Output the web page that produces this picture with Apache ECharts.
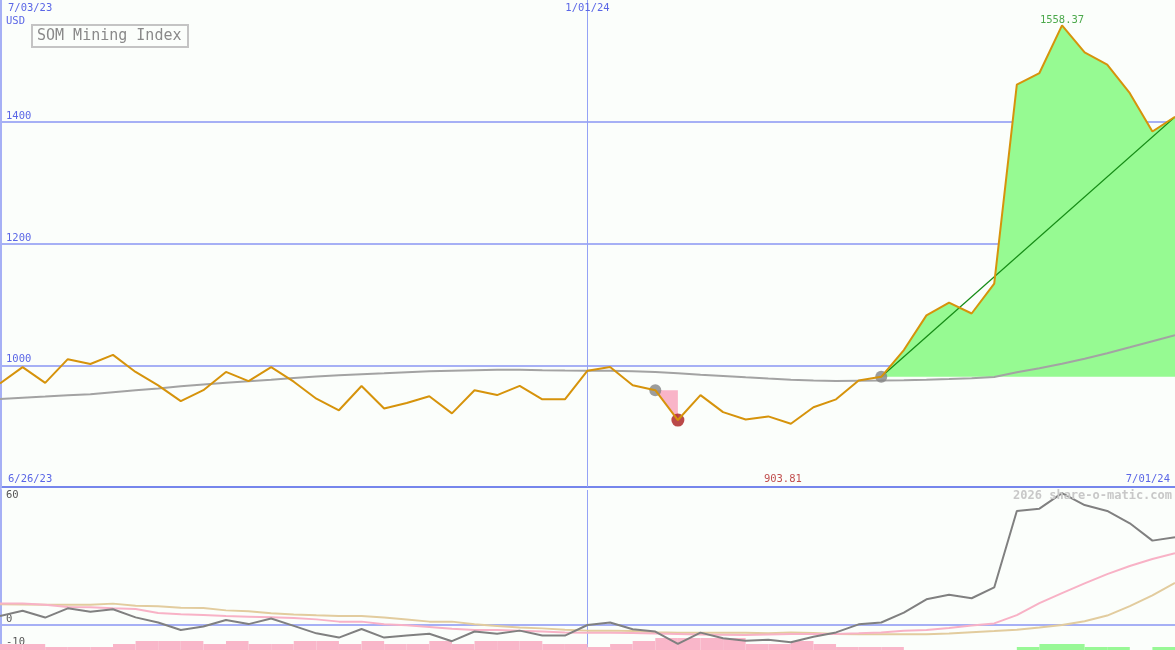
<!DOCTYPE html>
<html>
<head>
<meta charset="utf-8">
<script src="https://cdn.jsdelivr.net/npm/echarts@6.0.0/dist/echarts.min.js"></script>
<style>
html,body{margin:0;padding:0;background:#fbfefb;}
#c{width:1175px;height:650px;}
</style>
</head>
<body>
<div id="c"></div>
<script>
// ---------- DATA ----------
const dates = ['7/03/23','7/10/23','7/17/23','7/24/23','7/31/23','8/07/23','8/14/23','8/21/23','8/28/23',
  '9/04/23','9/11/23','9/18/23','9/25/23','10/02/23','10/09/23','10/16/23','10/23/23','10/30/23',
  '11/06/23','11/13/23','11/20/23','11/27/23','12/04/23','12/11/23','12/18/23','12/25/23',
  '1/01/24','1/08/24','1/15/24','1/22/24','1/29/24','2/05/24','2/12/24','2/19/24','2/26/24',
  '3/04/24','3/11/24','3/18/24','3/25/24','4/01/24','4/08/24','4/15/24','4/22/24','4/29/24',
  '5/06/24','5/13/24','5/20/24','5/27/24','6/03/24','6/10/24','6/17/24','6/24/24','7/01/24'];

const price = [970, 997, 971, 1010, 1002, 1017, 989, 967, 941, 959,
  989, 974, 997, 973, 945, 926, 966, 929, 938, 949,
  921, 959, 951, 966, 944, 944, 991, 997, 967, 959,
  910, 951, 923, 911, 916, 903.81, 931, 944, 975, 981,
  1025, 1082, 1103, 1085, 1134, 1461, 1480, 1558.37, 1514, 1494,
  1447, 1384, 1408];

const ma40 = [944.5, 946.5, 948.5, 950.6, 952.3, 955.6, 958.8, 962, 965.4, 968.4,
  971.2, 973.7, 976.1, 979.1, 981.4, 983.5, 985.2, 986.8, 988.5, 990,
  991, 991.8, 992.6, 992.6, 991.8, 991.3, 991, 991, 990, 989,
  986.8, 984.4, 982.4, 980.2, 978.1, 976.1, 974.8, 974.2, 974.5, 974.8,
  975.3, 976.1, 977.3, 978.6, 980.7, 988.5, 995, 1002.5, 1010.7, 1019.8,
  1029.6, 1039.5, 1049.4];

const osc = [4.0, 6.3, 3.3, 7.4, 5.9, 7.0, 3.4, 1.1, -2.2, -0.7,
  2.2, 0.4, 2.9, -0.4, -3.7, -5.6, -1.8, -5.6, -4.7, -3.9,
  -7.2, -2.9, -3.9, -2.5, -4.7, -4.7, 0, 1.1, -1.9, -2.9,
  -8.4, -3.4, -5.9, -7.0, -6.6, -7.7, -5.2, -3.3, 0.3, 1.1,
  5.5, 11.4, 13.4, 11.9, 16.7, 50.7, 51.7, 58.6, 53.3, 50.7,
  45.2, 37.5, 39.0];

const oscFast = [9.6, 9.6, 9.0, 8.0, 7.9, 7.4, 7.1, 5.3, 4.8, 4.4,
  4.0, 3.7, 3.4, 3.1, 2.5, 1.5, 1.5, 0.3, -0.1, -0.9,
  -1.7, -2.2, -2.2, -2.6, -2.9, -3.3, -3.4, -3.4, -3.6, -3.8,
  -4.0, -4.2, -4.3, -4.4, -4.2, -4.0, -4.0, -4.0, -3.7, -3.3,
  -2.6, -2.2, -1.3, -0.2, 0.7, 4.4, 9.7, 14.2, 18.5, 22.6,
  26.2, 29.3, 31.9];

const oscSlow = [9.2, 9.1, 9.0, 9.0, 9.0, 9.5, 8.6, 8.3, 7.7, 7.6,
  6.5, 6.1, 5.2, 4.7, 4.3, 4.0, 4.0, 3.3, 2.4, 1.5,
  1.5, 0.3, -0.4, -1.1, -1.5, -2.1, -2.5, -2.5, -2.7, -3.2,
  -3.4, -3.4, -3.4, -3.4, -3.7, -3.3, -3.6, -4.0, -4.1, -4.1,
  -4.1, -4.1, -3.8, -3.2, -2.7, -2.1, -1.1, 0.0, 1.7, 4.2,
  8.4, 13.2, 18.7];

// weekly strength blocks between consecutive points (negative = pink, positive = green)
const strength = [-2, -2, -1, -1, -1, -2, -3, -3, -3, -2,
  -3, -2, -2, -3, -3, -2, -3, -2, -2, -3,
  -2, -3, -3, -3, -2, -2, -1, -2, -3, -4,
  -4, -4, -4, -2, -2, -3, -2, -1, -1, -1,
  0, 0, 0, 0, 0, 1, 2, 2, 1, 1,
  0, 1];

const priceTicks = [1000, 1200, 1400];
const oscTicks = [60, 0, -10];
const sellStart = 29, sellMark = 30, buyIdx = 39;
const peakIdx = 47, lowIdx = 35;
const title = 'SOM Mining Index';
const currency = 'USD';
const rangeLabels = ['6/26/23', '7/01/24'];
const credit = '2026 share-o-matic.com';

// ---------- CHART ----------
const FONT = 'DejaVu Sans Mono';
const BLUE_TXT = '#5a66e6';
const GRID_BLUE = '#a6b0f5';
const VLINE_BLUE = '#94a2f6';
const SEP_BLUE = '#7686ec';
const CLEAR = 'rgba(0,0,0,0)';
const N = dates.length;
const gap = '-';
const ranged = (fn, a, b) => dates.map((d, i) => (i >= a && i <= b) ? fn(i) : gap);

const chart = echarts.init(document.getElementById('c'), null, {renderer: 'canvas'});

const option = {
  animation: false,
  backgroundColor: '#fbfefb',
  grid: [
    {left: 0, right: 0, top: 0, height: 487, outerBoundsMode: 'none', containLabel: false},
    {left: 0, right: 0, top: 490, height: 157.5, outerBoundsMode: 'none', containLabel: false},
    {left: 0, right: 0, top: 638, height: 12, outerBoundsMode: 'none', containLabel: false}
  ],
  xAxis: [
    {gridIndex: 0, type: 'category', data: dates, boundaryGap: false, position: 'top',
      axisLine: {show: false}, axisTick: {show: false},
      axisLabel: {inside: true, margin: 3, verticalAlign: 'top', alignMinLabel: 'left',
        interval: (i) => i === 0 || i === 26,
        formatter: (v, i) => i === 0 ? '{a|' + v + '}' : v,
        rich: {a: {padding: [0, 0, 0, 8], color: BLUE_TXT, fontFamily: FONT, fontSize: 10.5}},
        color: BLUE_TXT, fontFamily: FONT, fontSize: 10.5},
      splitLine: {show: true, interval: (i) => i === 26, lineStyle: {color: VLINE_BLUE, width: 1}}},
    {gridIndex: 1, type: 'category', data: dates, boundaryGap: false,
      axisLine: {show: false}, axisTick: {show: false}, axisLabel: {show: false},
      splitLine: {show: true, interval: (i) => i === 26, lineStyle: {color: VLINE_BLUE, width: 1}}},
    {gridIndex: 2, type: 'category', data: strength.map((s, i) => i), boundaryGap: true, show: false}
  ],
  yAxis: [
    {gridIndex: 0, type: 'value', min: 800, max: 1600, interval: 200,
      axisLine: {show: true, lineStyle: {color: GRID_BLUE, width: 4}}, axisTick: {show: false},
      axisLabel: {inside: true, margin: 6, verticalAlign: 'bottom', color: BLUE_TXT,
        fontFamily: FONT, fontSize: 10.5,
        formatter: (v) => priceTicks.includes(v) ? String(v) : ''},
      splitLine: {show: true, lineStyle: {color: [SEP_BLUE, GRID_BLUE, GRID_BLUE, GRID_BLUE, CLEAR], width: 2}}},
    {gridIndex: 1, type: 'value', min: -10, max: 60, interval: 10,
      axisLine: {show: true, lineStyle: {color: GRID_BLUE, width: 4}}, axisTick: {show: false},
      axisLabel: {inside: true, margin: 6, verticalAlign: 'bottom', verticalAlignMaxLabel: 'top',
        color: '#555555', fontFamily: FONT, fontSize: 10.5,
        formatter: (v) => oscTicks.includes(v) ? String(v) : ''},
      splitLine: {show: true, lineStyle: {color: [CLEAR, GRID_BLUE, CLEAR, CLEAR, CLEAR, CLEAR, CLEAR, CLEAR], width: 2}}},
    {gridIndex: 2, type: 'value', min: 0, max: 4, show: false}
  ],
  series: [
    // green gain area
    {type: 'line', xAxisIndex: 0, yAxisIndex: 0, stack: 'gain', z: 1, silent: true,
      data: ranged(() => price[buyIdx], buyIdx, N - 1), symbol: 'none', lineStyle: {opacity: 0}},
    {type: 'line', xAxisIndex: 0, yAxisIndex: 0, stack: 'gain', z: 1, silent: true,
      data: ranged((i) => price[i] - price[buyIdx], buyIdx, N - 1), symbol: 'none',
      lineStyle: {opacity: 0}, areaStyle: {color: '#96fa92', opacity: 1}},
    // pink loss area
    {type: 'line', xAxisIndex: 0, yAxisIndex: 0, stack: 'loss', z: 1, silent: true,
      data: ranged((i) => price[i], sellStart, sellMark), symbol: 'none', lineStyle: {opacity: 0}},
    {type: 'line', xAxisIndex: 0, yAxisIndex: 0, stack: 'loss', z: 1, silent: true,
      data: ranged((i) => price[sellStart] - price[i], sellStart, sellMark), symbol: 'none',
      lineStyle: {opacity: 0}, areaStyle: {color: '#f9b4c8', opacity: 1}},
    // moving average
    {type: 'line', xAxisIndex: 0, yAxisIndex: 0, z: 3, data: ma40, symbol: 'none',
      lineStyle: {color: '#a3a3a3', width: 2}},
    // trend line
    {type: 'line', xAxisIndex: 0, yAxisIndex: 0, z: 4, symbol: 'none',
      data: [[buyIdx, price[buyIdx]], [N - 1, price[N - 1]]],
      lineStyle: {color: '#168c16', width: 1.3}},
    // markers
    {type: 'scatter', xAxisIndex: 0, yAxisIndex: 0, z: 4, symbolSize: 12,
      data: [[sellStart, price[sellStart]], [buyIdx, price[buyIdx]]], itemStyle: {color: '#858585'}},
    {type: 'scatter', xAxisIndex: 0, yAxisIndex: 0, z: 4, symbolSize: 13,
      data: [[sellMark, price[sellMark]]], itemStyle: {color: '#aa1c1c'}},
    // price
    {type: 'line', xAxisIndex: 0, yAxisIndex: 0, z: 5, data: price, symbol: 'none',
      lineStyle: {color: '#d6930b', width: 2}},
    // peak label
    {type: 'scatter', xAxisIndex: 0, yAxisIndex: 0, z: 6, symbolSize: 0, silent: true,
      data: [[peakIdx, price[peakIdx]]],
      label: {show: true, position: 'top', distance: 0, formatter: (p) => p.value[1].toFixed(2),
        color: '#1f931f', fontFamily: FONT, fontSize: 10.5}},
    // low label on bottom edge
    {type: 'scatter', xAxisIndex: 0, yAxisIndex: 0, z: 6, symbolSize: 0, silent: true,
      data: [[lowIdx, 800, price[lowIdx]]],
      label: {show: true, position: 'top', distance: 2, offset: [-8, 0], formatter: (p) => p.value[2].toFixed(2),
        color: '#b22222', fontFamily: FONT, fontSize: 10.5}},
    // oscillator panel
    {type: 'line', xAxisIndex: 1, yAxisIndex: 1, z: 2, data: oscSlow, symbol: 'none',
      lineStyle: {color: '#e2cc9e', width: 2}},
    {type: 'line', xAxisIndex: 1, yAxisIndex: 1, z: 2, data: oscFast, symbol: 'none',
      lineStyle: {color: '#f8b2c6', width: 2}},
    {type: 'line', xAxisIndex: 1, yAxisIndex: 1, z: 3, data: osc, symbol: 'none',
      lineStyle: {color: '#808080', width: 2}},
    // strength blocks
    {type: 'bar', xAxisIndex: 2, yAxisIndex: 2, z: 1, barCategoryGap: '0%', silent: true,
      data: strength.map((s) => ({value: Math.abs(s), itemStyle: {color: s < 0 ? '#f9b6c9' : '#98f896'}}))}
  ],
  graphic: [
    {type: 'rect', shape: {x: 32, y: 25, width: 156, height: 22},
      style: {fill: '#fbfefb', stroke: '#c4c4c4', lineWidth: 2}, z: 10},
    {type: 'text', x: 37, y: 36, z: 11,
      style: {text: title, font: '15px "DejaVu Sans Mono"', fill: '#8a8a8a', verticalAlign: 'middle'}},
    {type: 'text', x: 6, y: 21, z: 11,
      style: {text: currency, font: '10.5px "DejaVu Sans Mono"', fill: BLUE_TXT, verticalAlign: 'middle'}},
    {type: 'text', x: 8, y: 479, z: 11,
      style: {text: rangeLabels[0], font: '10.5px "DejaVu Sans Mono"', fill: BLUE_TXT, verticalAlign: 'middle'}},
    {type: 'text', x: 1170, y: 479, z: 11,
      style: {text: rangeLabels[1], font: '10.5px "DejaVu Sans Mono"', fill: BLUE_TXT, verticalAlign: 'middle', align: 'right'}},
    {type: 'text', x: 1172, y: 496, z: 11,
      style: {text: credit, font: 'bold 12px "DejaVu Sans Mono"', fill: '#c8c8c8', verticalAlign: 'middle', align: 'right'}}
  ]
};
chart.setOption(option);
</script>
</body>
</html>
